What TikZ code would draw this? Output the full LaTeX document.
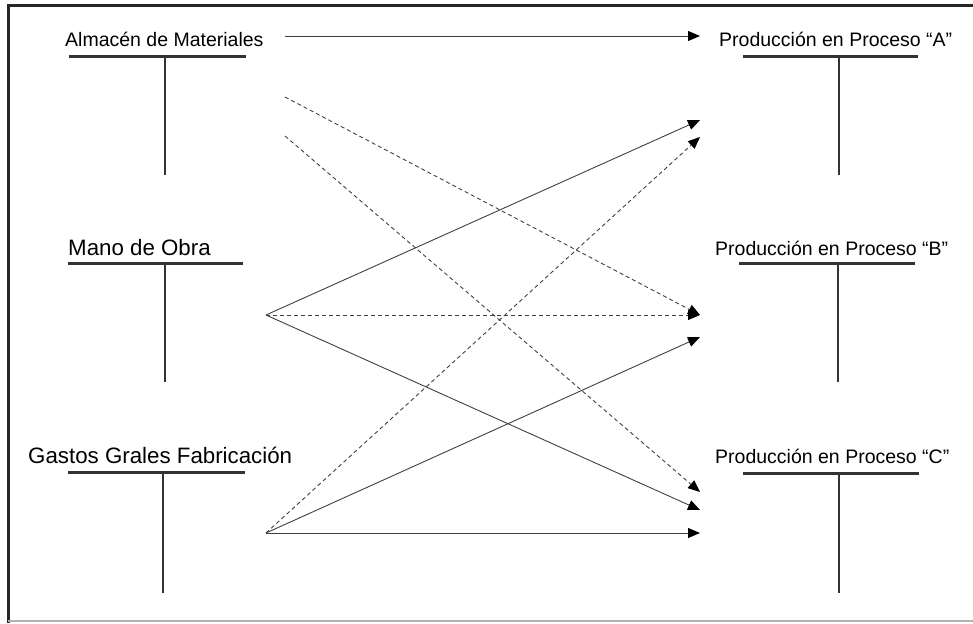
\documentclass[tikz,border=0pt]{standalone}
\usepackage{fontspec}
\setmainfont{Liberation Sans}
\usepackage{tikz}
\usetikzlibrary{arrows.meta}

\begin{document}
\begin{tikzpicture}[x=1pt,y=-1pt,
	cuenta/.style={inner sep=0pt,anchor=base west,font=\fontsize{19.5}{23}\selectfont},
	cuentag/.style={cuenta,font=\fontsize{22.3}{26}\selectfont},
	raya/.style={line width=3pt,black!80},
	palo/.style={line width=2.2pt,black!80},
	flecha/.style={-{Triangle[length=12pt,width=10pt,black]},line width=0.9pt,black!75},
	punteada/.style={flecha,dash pattern=on 4pt off 3pt}]
			
			\useasboundingbox (0,0) rectangle (973,623);
			\draw[line width=3pt,black!85] (8.5,623) -- (8.5,5.5) -- (973,5.5);
			\draw[line width=1.5pt,black!30] (8,621) -- (973,621);
			
			% cuentas de origen
			\node[cuenta] (alm) at (65,47) {Almacén de Materiales};
			\draw[raya] (69,57) -- (246,57);
			\draw[palo] (165,57) -- (165,175);
			
			\node[cuentag] (mano) at (68,255) {Mano de Obra};
			\draw[raya] (68,263) -- (243,263);
			\draw[palo] (165,263) -- (165,382);
			
			\node[cuentag] (gastos) at (28,463) {Gastos Grales Fabricación};
			\draw[raya] (68,472) -- (245,472);
			\draw[palo] (163,472) -- (163,593);
			
			% cuentas de destino
			\node[cuenta] (procA) at (719,47) {Producción en Proceso “A”};
			\draw[raya] (743,57) -- (918,57);
			\draw[palo] (839,57) -- (839,175);
			
			\node[cuenta] (procB) at (715,255) {Producción en Proceso “B”};
			\draw[raya] (739,263) -- (915,263);
			\draw[palo] (838,263) -- (838,382);
			
			\node[cuenta] (procC) at (715,463) {Producción en Proceso “C”};
			\draw[raya] (743,473) -- (919,473);
			\draw[palo] (839,473) -- (839,593);
			
			% salidas y llegadas
			\coordinate (almS1) at (285,36);
			\coordinate (almS2) at (285,97);
			\coordinate (almS3) at (285,136);
			\coordinate (manoS) at (266,315);
			\coordinate (gastosS) at (266,533);
			
			\coordinate (A1) at (700,36);
			\coordinate (A2) at (700,120);
			\coordinate (A3) at (700,137);
			\coordinate (B1) at (700,315);
			\coordinate (B2) at (700,337);
			\coordinate (C1) at (700,492);
			\coordinate (C2) at (700,510);
			\coordinate (C3) at (700,533);
			
			\draw[flecha] (almS1) -- (A1);
			\draw[punteada] (almS2) -- (B1);
			\draw[punteada] (almS3) -- (C1);
			
			\draw[flecha] (manoS) -- (A2);
			\draw[punteada] (manoS) -- (B1);
			\draw[flecha] (manoS) -- (C2);
			
			\draw[punteada] (gastosS) -- (A3);
			\draw[flecha] (gastosS) -- (B2);
			\draw[flecha] (gastosS) -- (C3);
			
\end{tikzpicture}
\end{document}
